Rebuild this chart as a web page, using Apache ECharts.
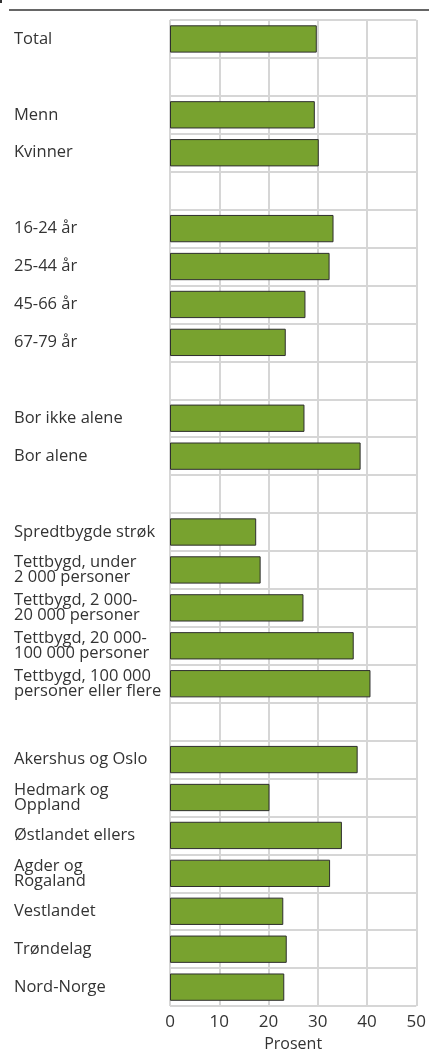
<!DOCTYPE html>
<html>
<head>
<meta charset="utf-8">
<script src="https://cdn.jsdelivr.net/npm/echarts@6/dist/echarts.min.js"></script>
<style>
  html, body { margin: 0; padding: 0; background: #fff; }
  #chart { width: 429px; height: 1057px; }
</style>
</head>
<body>
<div id="chart"></div>
<script>
// kategorier, tomme strenger er mellomrom mellom gruppene
var categories = [
    'Total', '',
    'Menn', 'Kvinner', '',
    '16-24 år', '25-44 år', '45-66 år', '67-79 år', '',
    'Bor ikke alene', 'Bor alene', '',
    'Spredtbygde strøk',
    'Tettbygd, under\n2 000 personer',
    'Tettbygd, 2 000-\n20 000 personer',
    'Tettbygd, 20 000-\n100 000 personer',
    'Tettbygd, 100 000\npersoner eller flere', '',
    'Akershus og Oslo', 'Hedmark og\nOppland', 'Østlandet ellers',
    'Agder og\nRogaland', 'Vestlandet', 'Trøndelag', 'Nord-Norge'
];
var prosent = [
    29.8, null,
    29.4, 30.2, null,
    33.2, 32.4, 27.5, 23.5, null,
    27.3, 38.7, null,
    17.5, 18.4, 27.1, 37.3, 40.7, null,
    38.1, 20.2, 34.9, 32.5, 23.0, 23.7, 23.2
];
var xTicks = { min: 0, max: 50, interval: 10 };

var font = '"Open Sans", sans-serif';
var gridColor = '#d6d6d6';

var option = {
    animation: false,
    textStyle: { fontFamily: font },
    grid: { left: 170, right: 12, top: 20, bottom: 44 },
    xAxis: {
        type: 'value',
        min: xTicks.min,
        max: xTicks.max,
        interval: xTicks.interval,
        name: 'Prosent',
        nameLocation: 'middle',
        nameGap: 26,
        nameTextStyle: { fontSize: 16, color: '#333', fontFamily: font },
        axisLine: { show: false },
        axisTick: { show: false },
        axisLabel: { fontSize: 17, color: '#333', margin: 8, fontFamily: font },
        splitLine: { show: true, lineStyle: { color: gridColor, width: 2 } }
    },
    yAxis: {
        type: 'category',
        inverse: true,
        data: categories,
        axisLine: { show: false },
        axisTick: { show: false },
        axisLabel: {
            interval: 0,
            align: 'left',
            margin: 156,
            fontSize: 16.5,
            lineHeight: 15,
            padding: [5, 0, 0, 0],
            color: '#333',
            fontFamily: font
        },
        splitLine: { show: true, interval: 0, lineStyle: { color: gridColor, width: 2 } }
    },
    series: [{
        type: 'bar',
        data: prosent,
        barCategoryGap: '28%',
        itemStyle: { color: '#78a22f', borderColor: '#2e2e2e', borderWidth: 1 }
    }],
    graphic: [
        { type: 'line', shape: { x1: 9, y1: 10, x2: 429, y2: 10 }, style: { stroke: '#333', lineWidth: 1.5 } },
        { type: 'rect', shape: { x: 0, y: 0, width: 2, height: 3 }, style: { fill: '#333' } }
    ]
};

echarts.init(document.getElementById('chart')).setOption(option);
</script>
</body>
</html>
